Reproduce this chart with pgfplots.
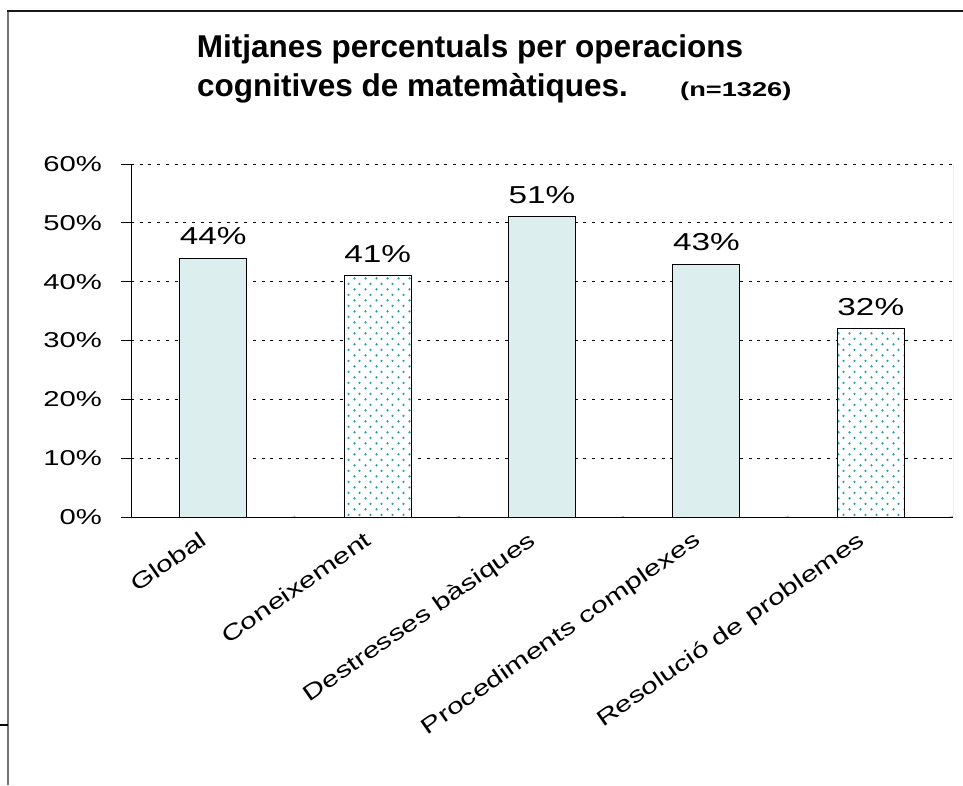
\documentclass[border=0pt]{standalone}
\usepackage{pgfplots}
\pgfplotsset{compat=1.18}
\usepackage{fontspec}
\setmainfont{Liberation Sans}
\newfontfamily\wide{Liberation Sans}[FakeStretch=1.36]
\usetikzlibrary{patterns.meta}
\definecolor{barcyan}{RGB}{221,238,238}
\definecolor{dotcol}{RGB}{40,160,160}
\tikzdeclarepattern{
  name=tdots,
  type=colored,
  bottom left={(0pt,0pt)},
  top right={(11pt,11.4pt)},
  tile size={(11pt,11.4pt)},
  code={
    \fill[dotcol] (2.75pt,2.85pt) circle (1.35pt);
    \fill[dotcol] (8.25pt,8.55pt) circle (1.35pt);
  }
}
\pgfplotsset{/pgf/number format/assume math mode=true}
\begin{document}
\begin{tikzpicture}[x=1pt,y=1pt]
\useasboundingbox (0,0) rectangle (963,785);
\draw[line width=2pt, black!55] (8,0) -- (8,774);
\draw[line width=1.5pt, black!90] (7,774) -- (963,774);
\draw[line width=2pt] (0,60) -- (8,60);
\node[font=\bfseries\fontsize{31.5}{31.5}\selectfont, anchor=base, inner sep=0pt] at (470,727) {Mitjanes percentuals per operacions};
\node[font=\bfseries\fontsize{31.5}{31.5}\selectfont, anchor=base west, inner sep=0pt] at (197,688) {cognitives de matemàtiques.};
\node[font=\wide\bfseries\fontsize{20}{20}\selectfont, anchor=base west, inner sep=0pt] at (680,688) {(n=1326)};
\begin{axis}[
  at={(131pt,268pt)}, anchor=south west,
  scale only axis, width=822pt, height=353pt,
  xmin=0.5, xmax=5.5, ymin=0, ymax=60,
  axis line style={draw opacity=0},
  ytick={0,10,...,50},
  yticklabel={\pgfmathprintnumber{\tick}\%},
  extra y ticks={60}, extra y tick labels={60\%},
  extra y tick style={grid style={black!45, dash pattern=on 3pt off 5.7pt, line width=0.8pt}},
  ymajorgrids,
  major grid style={black, dash pattern=on 3pt off 5.7pt, line width=0.8pt},
  ytick pos=left, tick align=outside, major tick length=10pt,
  tick style={black, line width=0.8pt},
  y tick label style={font=\wide\fontsize{21.5}{21.5}\selectfont, inner sep=0pt, xshift=-19pt},
  xtick={1,2,3,4,5},
  xticklabels={Global,Coneixement,Destresses bàsiques,Procediments complexes,Resolució de problemes},
  xtick style={draw=none},
  x tick label style={font=\wide\fontsize{22}{22}\selectfont, xshift=-14pt, yshift=-3pt, rotate=35, anchor=north east, inner sep=0pt},
  ybar, bar width=67pt,
  nodes near coords={\pgfmathprintnumber{\pgfplotspointmeta}\%},
  every node near coord/.append style={font=\wide\fontsize{24.5}{24.5}\selectfont, black, inner sep=0pt, anchor=south, yshift=13pt},
]
\addplot[bar shift=0pt, draw=black, line width=0.9pt, fill=barcyan] coordinates {(1,44) (3,51) (4,43)};
\addplot[bar shift=0pt, draw=black, line width=0.9pt, fill=white, postaction={pattern=tdots}] coordinates {(2,41) (5,32)};
\draw[black, line width=0.9pt] (rel axis cs:0,0) -- (rel axis cs:0,1);
\draw[black, line width=0.9pt] (rel axis cs:0,0) -- (rel axis cs:1,0);
\draw[black!55, line width=1pt] (rel axis cs:1,0) -- (rel axis cs:1,1);
\pgfplotsinvokeforeach{0.5,1.5,2.5,3.5,4.5,5.5}{
  \draw[black, line width=0.8pt] (axis cs:#1,0) -- ++(0,-9pt);
}
\end{axis}
\end{tikzpicture}
\end{document}
